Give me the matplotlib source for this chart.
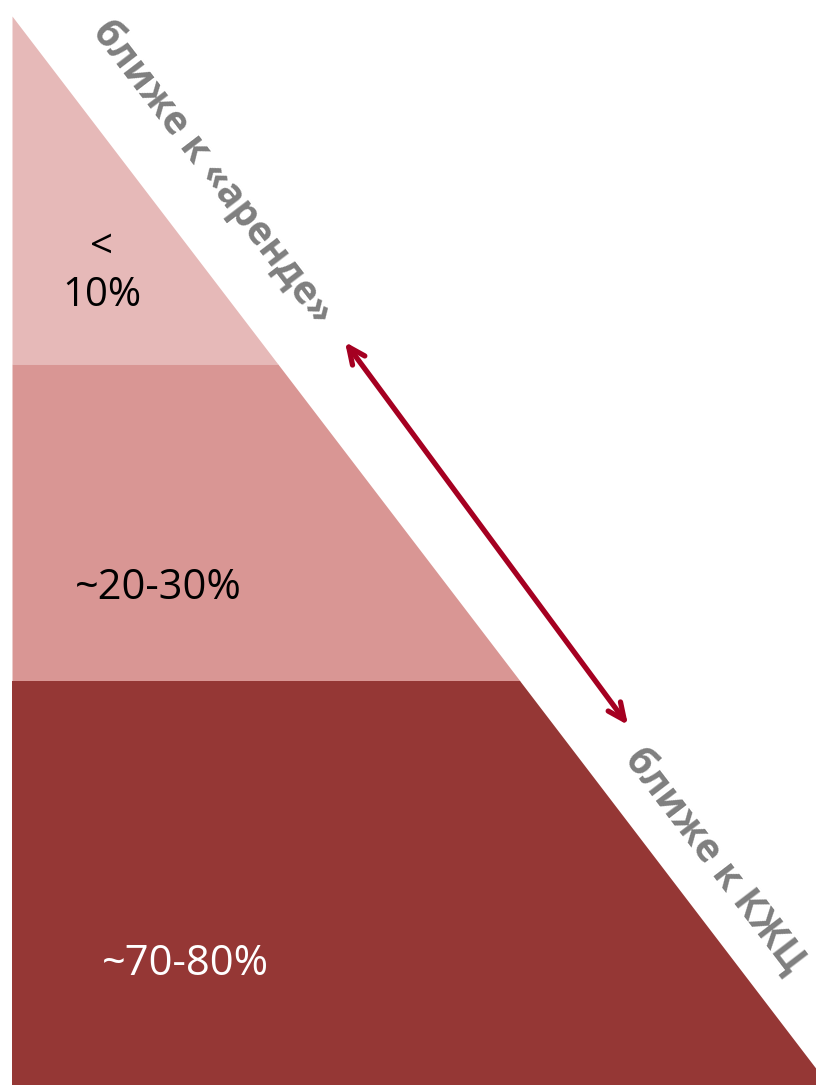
import matplotlib
matplotlib.use('Agg')
from matplotlib import pyplot as plt

# shares of each layer, top to bottom
band_labels = ["<\n10%", "~20-30%", "~70-80%"]
band_colors = ["#E6B9B8", "#D99694", "#953735"]
band_text_colors = ["black", "black", "white"]
side_labels = ["ближе к «аренде»", "ближе к КЖЦ"]

# layout (pixel coordinates, y grows downward)
W, H = 816, 1085
apex = (12, 16)
slope = 0.764            # dx / dy of the hypotenuse
band_edges = [16, 364, 681, 1085]
label_pos = [(102, 272), (158, 588), (185, 964)]
label_size = [29, 30, 30]
side_pos = [(213, 172), (714, 860)]

plt.rcParams['font.family'] = ['Open Sans', 'DejaVu Sans']

fig = plt.figure(figsize=(W / 100, H / 100), dpi=100)
ax = fig.add_axes([0, 0, 1, 1])
ax.set_xlim(0, W)
ax.set_ylim(H, 0)
ax.axis('off')


def edge_x(y):
    return apex[0] + slope * (y - apex[1])


for i in range(3):
    y0, y1 = band_edges[i], band_edges[i + 1]
    ys = [y0, y1]
    ax.fill_betweenx(ys, [apex[0], apex[0]], [edge_x(y0), edge_x(y1)],
                     color=band_colors[i], linewidth=0)
    ax.text(label_pos[i][0], label_pos[i][1], band_labels[i], ha='center',
            va='center', fontsize=label_size[i], color=band_text_colors[i],
            linespacing=1.25)

angle = -52.6
for (x, y), s in zip(side_pos, side_labels):
    ax.text(x, y, s, rotation=angle, rotation_mode='anchor', ha='center',
            va='center', fontsize=28, fontweight='bold', color='#7F7F7F')

ax.annotate('', xy=(628, 725), xytext=(345, 342),
            arrowprops=dict(arrowstyle='<->,head_length=1.2,head_width=0.55',
                            color='#A50021', lw=3.8, shrinkA=0, shrinkB=0))

fig.savefig('out.png', dpi=100)
